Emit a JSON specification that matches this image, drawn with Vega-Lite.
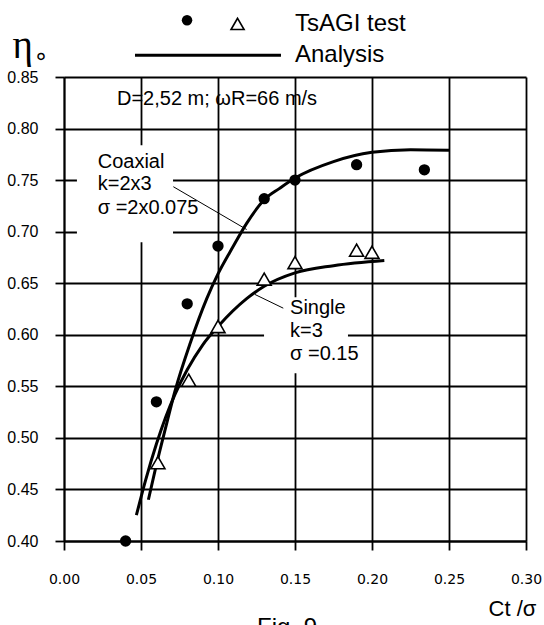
{
  "$schema": "https://vega.github.io/schema/vega-lite/v6.json",
  "width": 462,
  "height": 464,
  "autosize": "none",
  "padding": {"left": 64, "top": 77, "right": 18, "bottom": 84},
  "background": "white",
  "config": {
    "view": {"stroke": null},
    "font": "Liberation Sans"
  },
  "title": {
    "text": "Fig. 9",
    "orient": "bottom",
    "frame": "group",
    "anchor": "middle",
    "dx": -8,
    "offset": -3,
    "baseline": "top",
    "font": "Liberation Sans",
    "fontSize": 24,
    "fontWeight": "normal",
    "color": "black"
  },
  "datasets": {
    "coaxialTest": [
      {"x": 0.040, "y": 0.400},
      {"x": 0.060, "y": 0.535},
      {"x": 0.080, "y": 0.630},
      {"x": 0.100, "y": 0.686},
      {"x": 0.130, "y": 0.732},
      {"x": 0.150, "y": 0.750},
      {"x": 0.190, "y": 0.765},
      {"x": 0.234, "y": 0.760}
    ],
    "singleTest": [
      {"x": 0.061, "y": 0.476},
      {"x": 0.081, "y": 0.556},
      {"x": 0.100, "y": 0.608},
      {"x": 0.130, "y": 0.654},
      {"x": 0.150, "y": 0.670},
      {"x": 0.190, "y": 0.682},
      {"x": 0.200, "y": 0.680}
    ],
    "analysis": [
      {"series": "Coaxial", "x": 0.0548, "y": 0.440},
      {"series": "Coaxial", "x": 0.060, "y": 0.474},
      {"series": "Coaxial", "x": 0.066, "y": 0.510},
      {"series": "Coaxial", "x": 0.072, "y": 0.545},
      {"series": "Coaxial", "x": 0.082, "y": 0.592},
      {"series": "Coaxial", "x": 0.0927, "y": 0.635},
      {"series": "Coaxial", "x": 0.100, "y": 0.659},
      {"series": "Coaxial", "x": 0.110, "y": 0.686},
      {"series": "Coaxial", "x": 0.1186, "y": 0.708},
      {"series": "Coaxial", "x": 0.130, "y": 0.731},
      {"series": "Coaxial", "x": 0.140, "y": 0.742},
      {"series": "Coaxial", "x": 0.150, "y": 0.752},
      {"series": "Coaxial", "x": 0.175, "y": 0.768},
      {"series": "Coaxial", "x": 0.200, "y": 0.777},
      {"series": "Coaxial", "x": 0.225, "y": 0.7795},
      {"series": "Coaxial", "x": 0.250, "y": 0.779},
      {"series": "Single", "x": 0.047, "y": 0.425},
      {"series": "Single", "x": 0.053, "y": 0.459},
      {"series": "Single", "x": 0.060, "y": 0.494},
      {"series": "Single", "x": 0.066, "y": 0.520},
      {"series": "Single", "x": 0.072, "y": 0.542},
      {"series": "Single", "x": 0.080, "y": 0.566},
      {"series": "Single", "x": 0.090, "y": 0.590},
      {"series": "Single", "x": 0.100, "y": 0.608},
      {"series": "Single", "x": 0.1186, "y": 0.635},
      {"series": "Single", "x": 0.130, "y": 0.647},
      {"series": "Single", "x": 0.150, "y": 0.660},
      {"series": "Single", "x": 0.175, "y": 0.667},
      {"series": "Single", "x": 0.208, "y": 0.672}
    ],
    "labelBoxes": [
      {"x": 0.0084, "x2": 0.0708, "y": 0.6897, "y2": 0.7837},
      {"x": 0.1299, "x2": 0.1844, "y": 0.5626, "y2": 0.6363}
    ],
    "leaders": [
      {"x": 0.0710, "x2": 0.1186, "y": 0.7436, "y2": 0.7021},
      {"x": 0.1240, "x2": 0.1424, "y": 0.6391, "y2": 0.6258}
    ],
    "notes": [
      {"label": "D=2,52 m;  ωR=66 m/s", "x": 0.0344, "y": 0.8225},
      {"label": "Coaxial", "x": 0.0219, "y": 0.7621},
      {"label": "k=2x3", "x": 0.0219, "y": 0.7401},
      {"label": "σ =2x0.075", "x": 0.0219, "y": 0.7175},
      {"label": "Single", "x": 0.1468, "y": 0.6205},
      {"label": "k=3", "x": 0.1468, "y": 0.5978},
      {"label": "σ =0.15", "x": 0.1468, "y": 0.5752}
    ],
    "etaRing": [{"label": "∘", "x": -0.0150, "y": 0.869}],
    "keyDot": [{"x": 0.0799, "y": 0.905}],
    "keyTriangle": [{"x": 0.1127, "y": 0.9015}],
    "keyLine": [{"x": 0.0461, "x2": 0.1409, "y": 0.8712}],
    "keyText": [
      {"label": "TsAGI test", "x": 0.150, "y": 0.8948},
      {"label": "Analysis", "x": 0.150, "y": 0.8645}
    ]
  },
  "encoding": {
    "x": {
      "field": "x",
      "type": "quantitative",
      "scale": {"domain": [0, 0.3], "nice": false, "zero": false},
      "axis": {
        "values": [0, 0.05, 0.1, 0.15, 0.2, 0.25, 0.3],
        "format": ".2f",
        "grid": true,
        "gridColor": "black",
        "gridWidth": 1.8,
        "gridOpacity": 1,
        "domainColor": "black",
        "domainWidth": 1.8,
        "tickColor": "black",
        "tickWidth": 1.8,
        "tickSize": 9,
        "labelFont": "DejaVu Sans",
        "labelFontSize": 14,
        "labelColor": "black",
        "labelPadding": 22,
        "labelFlush": false,
        "labelOverlap": false,
        "title": "Ct /σ",
        "titleFont": "Liberation Sans",
        "titleFontSize": 22,
        "titleFontWeight": "normal",
        "titleColor": "black",
        "titleX": 448,
        "titleY": 74,
        "titleAlign": "center",
        "titleBaseline": "alphabetic"
      }
    },
    "y": {
      "field": "y",
      "type": "quantitative",
      "scale": {"domain": [0.4, 0.85], "nice": false, "zero": false},
      "axis": {
        "values": [0.4, 0.45, 0.5, 0.55, 0.6, 0.65, 0.7, 0.75, 0.8, 0.85],
        "format": ".2f",
        "grid": true,
        "gridColor": "black",
        "gridWidth": 1.8,
        "gridOpacity": 1,
        "domainColor": "black",
        "domainWidth": 1.8,
        "tickColor": "black",
        "tickWidth": 1.8,
        "tickSize": 9,
        "labelFont": "Liberation Sans",
        "labelFontSize": 16,
        "labelColor": "black",
        "labelPadding": 17,
        "labelFlush": false,
        "labelOverlap": false,
        "title": "η",
        "titleFont": "Liberation Serif",
        "titleFontSize": 39,
        "titleFontWeight": "normal",
        "titleColor": "black",
        "titleAngle": 0,
        "titleX": -52,
        "titleY": -20,
        "titleAlign": "left",
        "titleBaseline": "alphabetic"
      }
    }
  },
  "layer": [
    {
      "data": {"name": "labelBoxes"},
      "mark": {"type": "rect", "fill": "white", "stroke": null},
      "encoding": {"x2": {"field": "x2"}, "y2": {"field": "y2"}}
    },
    {
      "data": {"name": "leaders"},
      "mark": {"type": "rule", "color": "black", "strokeWidth": 1},
      "encoding": {"x2": {"field": "x2"}, "y2": {"field": "y2"}}
    },
    {
      "data": {"name": "notes"},
      "mark": {"type": "text", "align": "left", "baseline": "alphabetic", "fontSize": 20, "font": "Liberation Sans", "color": "black"},
      "encoding": {"text": {"field": "label"}}
    },
    {
      "data": {"name": "etaRing"},
      "mark": {"type": "text", "align": "center", "baseline": "middle", "fontSize": 24, "font": "DejaVu Sans", "color": "black"},
      "encoding": {"text": {"field": "label"}}
    },
    {
      "data": {"name": "analysis"},
      "mark": {"type": "line", "color": "black", "strokeWidth": 3, "interpolate": "monotone"},
      "encoding": {"detail": {"field": "series"}}
    },
    {
      "data": {"name": "coaxialTest"},
      "mark": {"type": "point", "shape": "circle", "filled": true, "color": "black", "opacity": 1, "size": 128}
    },
    {
      "data": {"name": "singleTest"},
      "mark": {"type": "point", "shape": "triangle-up", "fill": "white", "stroke": "black", "strokeWidth": 1.6, "opacity": 1, "fillOpacity": 1, "size": 196}
    },
    {
      "data": {"name": "keyDot"},
      "mark": {"type": "point", "shape": "circle", "filled": true, "color": "black", "opacity": 1, "size": 110}
    },
    {
      "data": {"name": "keyTriangle"},
      "mark": {"type": "point", "shape": "triangle-up", "fill": "white", "stroke": "black", "strokeWidth": 1.6, "opacity": 1, "fillOpacity": 1, "size": 170}
    },
    {
      "data": {"name": "keyLine"},
      "mark": {"type": "rule", "color": "black", "strokeWidth": 3},
      "encoding": {"x2": {"field": "x2"}}
    },
    {
      "data": {"name": "keyText"},
      "mark": {"type": "text", "align": "left", "baseline": "alphabetic", "fontSize": 24, "font": "Liberation Sans", "color": "black"},
      "encoding": {"text": {"field": "label"}}
    }
  ]
}
